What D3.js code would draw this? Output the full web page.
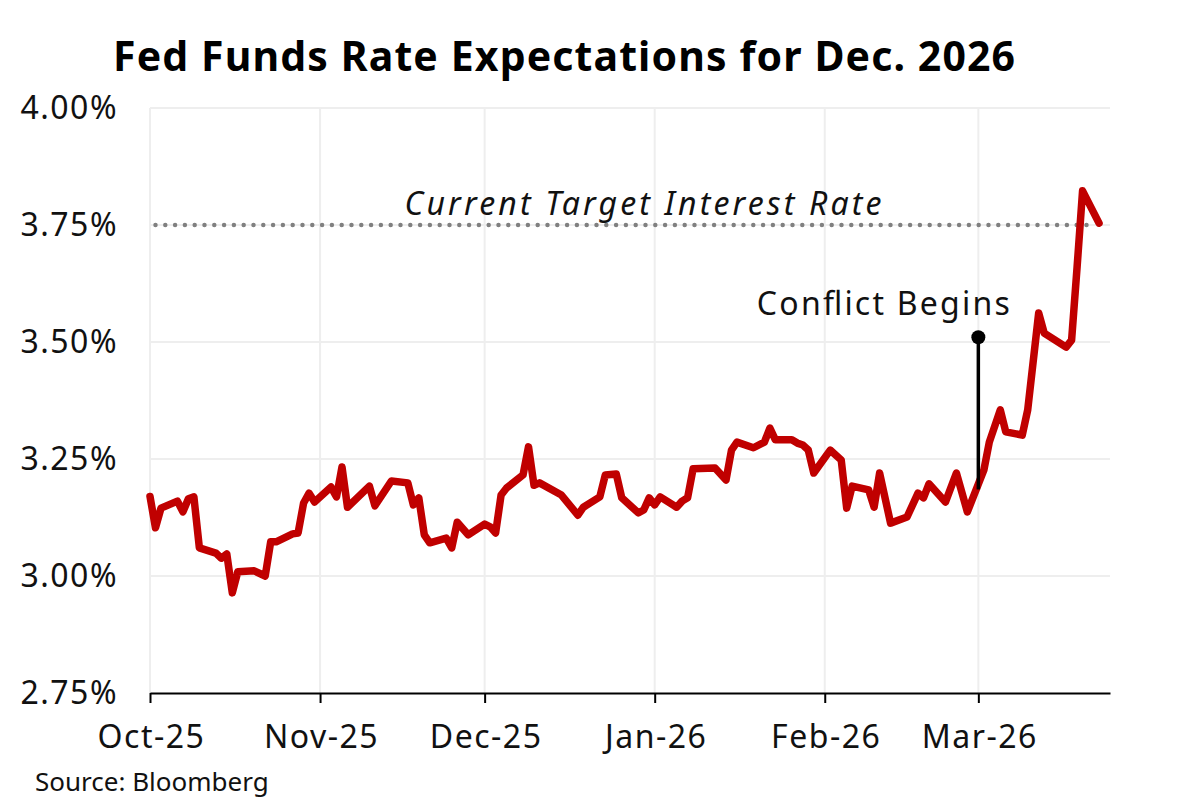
<!DOCTYPE html>
<html>
<head>
  <title>Fed Funds Rate Expectations for Dec. 2026</title>
  <style>
    html, body {
      margin: 0;
      padding: 0;
      width: 100%;
      height: 100%;
      overflow: hidden;
      background: #fff;
    }
    #chart-container {
      position: relative;
      width: 1200px;
      height: 800px;
    }
    .grid line {
      stroke: #eeeeee;
      stroke-width: 2;
    }
    .axis text {
      font-family: "Noto Sans", sans-serif;
      font-size: 32px;
      letter-spacing: 1.5px;
      fill: #111;
    }
  </style>
  <script src="https://d3js.org/d3.v7.min.js"></script>
</head>
<body>
  <div id="chart-container"></div>

  <script>
    // data (daily implied rate, %)
    const dates = [
      "2025-10-01","2025-10-02","2025-10-03","2025-10-06","2025-10-07","2025-10-08","2025-10-09","2025-10-10",
      "2025-10-13","2025-10-14","2025-10-15","2025-10-16","2025-10-17","2025-10-20","2025-10-22","2025-10-23",
      "2025-10-24","2025-10-27","2025-10-28","2025-10-29","2025-10-30","2025-10-31","2025-11-03","2025-11-04",
      "2025-11-05","2025-11-06","2025-11-10","2025-11-11","2025-11-14","2025-11-17","2025-11-18","2025-11-19",
      "2025-11-20","2025-11-21","2025-11-24","2025-11-25","2025-11-26","2025-11-28","2025-12-01","2025-12-02",
      "2025-12-03","2025-12-04","2025-12-05","2025-12-08","2025-12-09","2025-12-10","2025-12-11","2025-12-15",
      "2025-12-18","2025-12-19","2025-12-22","2025-12-23","2025-12-25","2025-12-26","2025-12-29","2025-12-30",
      "2025-12-31","2026-01-01","2026-01-02","2026-01-05","2026-01-06","2026-01-07","2026-01-08","2026-01-12",
      "2026-01-14","2026-01-15","2026-01-16","2026-01-19","2026-01-21","2026-01-22","2026-01-23","2026-01-26",
      "2026-01-27","2026-01-28","2026-01-29","2026-01-30","2026-02-02","2026-02-04","2026-02-05","2026-02-06",
      "2026-02-09","2026-02-10","2026-02-11","2026-02-13","2026-02-16","2026-02-18","2026-02-19","2026-02-20",
      "2026-02-23","2026-02-25","2026-02-27","2026-03-02","2026-03-03","2026-03-05","2026-03-06","2026-03-09",
      "2026-03-10","2026-03-12","2026-03-13","2026-03-17","2026-03-18","2026-03-19","2026-03-20","2026-03-23"
    ];
    const rates = [
      3.170, 3.103, 3.145, 3.160, 3.137, 3.165, 3.169, 3.060,
      3.049, 3.038, 3.047, 2.964, 3.009, 3.011, 3.000, 3.073,
      3.073, 3.090, 3.092, 3.156, 3.177, 3.158, 3.190, 3.169,
      3.233, 3.147, 3.192, 3.150, 3.203, 3.199, 3.152, 3.167,
      3.088, 3.071, 3.081, 3.060, 3.115, 3.088, 3.111, 3.105,
      3.092, 3.173, 3.188, 3.216, 3.276, 3.194, 3.199, 3.173,
      3.130, 3.147, 3.169, 3.216, 3.218, 3.167, 3.135, 3.141,
      3.167, 3.152, 3.169, 3.147, 3.160, 3.167, 3.229, 3.231,
      3.205, 3.269, 3.286, 3.274, 3.286, 3.316, 3.291, 3.291,
      3.284, 3.280, 3.269, 3.220, 3.269, 3.248, 3.145, 3.192,
      3.184, 3.147, 3.220, 3.113, 3.126, 3.177, 3.167, 3.197,
      3.158, 3.220, 3.137, 3.226, 3.286, 3.355, 3.308, 3.301,
      3.355, 3.562, 3.519, 3.489, 3.504, 3.660, 3.823, 3.754
    ];
    const yTicks = [2.75, 3.00, 3.25, 3.50, 3.75, 4.00];
    const targetRate = 3.75;
    const targetLabel = "Current Target Interest Rate";
    const conflictDate = "2026-03-01";
    const conflictRange = [3.185, 3.51];
    const conflictLabel = "Conflict Begins";

    const width = 1200;
    const height = 800;
    const margin = { top: 108, right: 90, bottom: 107, left: 150 };

    const parse = d3.timeParse("%Y-%m-%d");
    const data = dates.map((d, i) => ({ date: parse(d), value: rates[i] }));

    const svg = d3.select("#chart-container")
      .append("svg")
      .attr("width", width)
      .attr("height", height);

    const x = d3.scaleTime()
      .domain([parse("2025-10-01"), parse("2026-03-25")])
      .range([margin.left, width - margin.right]);

    const y = d3.scaleLinear()
      .domain([2.75, 4.00])
      .range([height - margin.bottom, margin.top]);

    const months = x.ticks(d3.timeMonth.every(1));

    // gridlines
    svg.append("g")
      .attr("class", "grid")
      .selectAll("line.h")
      .data(yTicks.slice(1))
      .enter()
      .append("line")
      .attr("x1", margin.left)
      .attr("x2", width - margin.right)
      .attr("y1", d => y(d))
      .attr("y2", d => y(d));

    svg.append("g")
      .attr("class", "grid")
      .selectAll("line.v")
      .data(months)
      .enter()
      .append("line")
      .attr("x1", d => x(d))
      .attr("x2", d => x(d))
      .attr("y1", margin.top)
      .attr("y2", height - margin.bottom);

    // y axis labels only
    svg.append("g")
      .attr("class", "axis")
      .attr("transform", `translate(${margin.left},0)`)
      .call(d3.axisLeft(y).tickValues(yTicks).tickFormat(d => d.toFixed(2) + "%").tickSize(0).tickPadding(32))
      .call(g => g.select(".domain").remove());

    // x axis
    svg.append("g")
      .attr("class", "axis")
      .attr("transform", `translate(0,${height - margin.bottom})`)
      .call(d3.axisBottom(x).tickValues(months).tickFormat(d3.timeFormat("%b-%y")).tickSize(10).tickSizeOuter(0).tickPadding(22))
      .call(g => g.select(".domain").attr("stroke", "#000").attr("stroke-width", 2))
      .call(g => g.selectAll(".tick line").attr("stroke", "#000").attr("stroke-width", 2))
      .call(g => g.selectAll(".tick text").attr("dx", 1));

    // target rate line
    svg.append("line")
      .attr("x1", x(parse("2025-10-02")))
      .attr("x2", x(parse("2026-03-21")))
      .attr("y1", y(targetRate))
      .attr("y2", y(targetRate))
      .attr("stroke", "#808080")
      .attr("stroke-width", 4.5)
      .attr("stroke-linecap", "round")
      .attr("stroke-dasharray", "0,9.8");

    svg.append("text")
      .attr("x", 643)
      .attr("y", y(targetRate) - 10)
      .attr("text-anchor", "middle")
      .attr("textLength", 477)
      .attr("lengthAdjust", "spacing")
      .style("font-family", "Noto Sans, sans-serif")
      .style("font-style", "italic")
      .style("font-size", "32px")
      .style("fill", "#111")
      .text(targetLabel);

    // rate line
    const line = d3.line()
      .x(d => x(d.date))
      .y(d => y(d.value));

    svg.append("path")
      .datum(data)
      .attr("fill", "none")
      .attr("stroke", "#c00000")
      .attr("stroke-width", 7.5)
      .attr("stroke-linejoin", "round")
      .attr("stroke-linecap", "round")
      .attr("d", line);

    // conflict annotation
    const cx = x(parse(conflictDate));
    svg.append("line")
      .attr("x1", cx)
      .attr("x2", cx)
      .attr("y1", y(conflictRange[0]))
      .attr("y2", y(conflictRange[1]))
      .attr("stroke", "#000")
      .attr("stroke-width", 3.5);

    svg.append("circle")
      .attr("cx", cx)
      .attr("cy", y(conflictRange[1]))
      .attr("r", 7)
      .attr("fill", "#000");

    svg.append("text")
      .attr("x", cx - 95)
      .attr("y", y(conflictRange[1]) - 22)
      .attr("text-anchor", "middle")
      .attr("textLength", 253)
      .attr("lengthAdjust", "spacing")
      .style("font-family", "Noto Sans, sans-serif")
      .style("font-size", "32px")
      .style("fill", "#111")
      .text(conflictLabel);

    // title and source
    svg.append("text")
      .attr("x", 564)
      .attr("y", 71)
      .attr("text-anchor", "middle")
      .attr("textLength", 902)
      .attr("lengthAdjust", "spacing")
      .style("font-family", "Noto Sans, sans-serif")
      .style("font-weight", "bold")
      .style("font-size", "41px")
      .style("fill", "#000")
      .text("Fed Funds Rate Expectations for Dec. 2026");

    svg.append("text")
      .attr("x", 35)
      .attr("y", 791)
      .style("font-family", "Noto Sans, sans-serif")
      .style("font-size", "26px")
      .style("fill", "#111")
      .text("Source: Bloomberg");
  </script>
</body>
</html>
